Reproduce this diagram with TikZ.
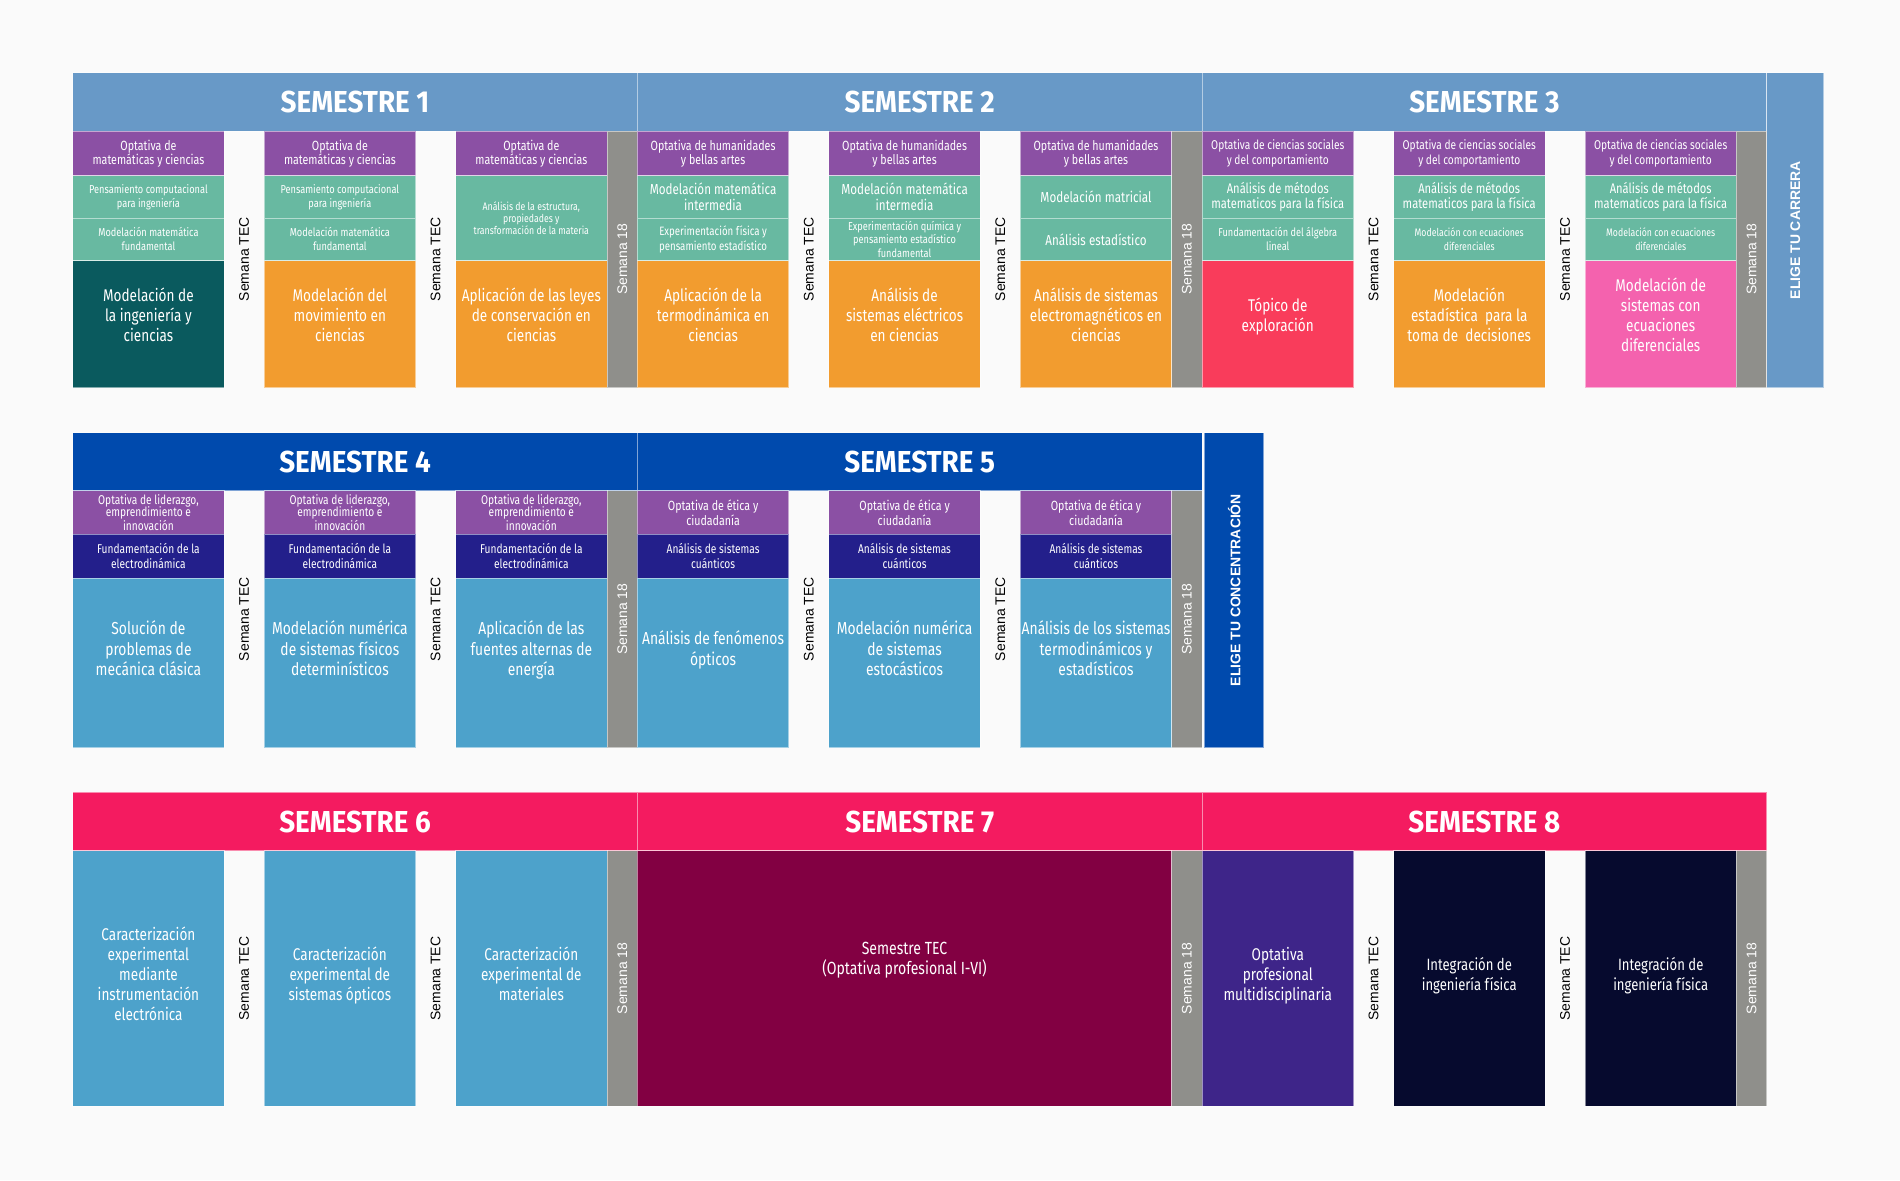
\documentclass[tikz,border=0pt]{standalone}
\usepackage{fontspec}
\setmainfont{Fira Sans}[FakeStretch=0.8]
\newfontfamily\titlefont{Fira Sans}[FakeStretch=0.92]
\newfontfamily\tecfont{Liberation Sans}
\usepackage{graphicx}
\usepackage{tikz}
\usetikzlibrary{positioning}

\definecolor{paper}{HTML}{FAFAFA}
\definecolor{headblue}{HTML}{6899C7}
\definecolor{headroyal}{HTML}{004AAD}
\definecolor{headrose}{HTML}{F41B60}
\definecolor{optpurple}{HTML}{8B50A4}
\definecolor{tealrow}{HTML}{68B9A1}
\definecolor{darkteal}{HTML}{0A5A5E}
\definecolor{orangebox}{HTML}{F29C2F}
\definecolor{greybar}{HTML}{8F8F8B}
\definecolor{redbox}{HTML}{F93C5B}
\definecolor{pinkbox}{HTML}{F462AE}
\definecolor{navyrow}{HTML}{231F8B}
\definecolor{skybox}{HTML}{4DA2CB}
\definecolor{maroonbox}{HTML}{820042}
\definecolor{violetbox}{HTML}{3E2589}
\definecolor{inkbox}{HTML}{060A2E}

\newcommand{\fs}[2]{\fontsize{#1}{#2}\selectfont}
% extra empty line to lift the text of the tall boxes
\newcommand{\liftone}{\\[-1.5pt]\mbox{}}
\newcommand{\lifttwo}{\\[7pt]\mbox{}}
\newcommand{\liftthree}{\\[-8.5pt]\mbox{}}

\begin{document}
\begin{tikzpicture}[
    x=1pt, y=-1pt,
    cell/.style={draw=white, draw opacity=0.5, line width=0.6pt, outer sep=0pt, inner sep=1pt, text=white, align=center, anchor=north west, minimum width=125pt},
    headone/.style={cell, fill=headblue, minimum width=466pt, minimum height=48pt, font=\titlefont\bfseries\fs{25}{25}},
    headtwo/.style={headone, fill=headroyal},
    headthree/.style={headone, fill=headrose},
    optone/.style={cell, fill=optpurple, minimum height=37pt, font=\fs{11}{11.5}},
    opttwo/.style={cell, fill=optpurple, minimum height=36pt, font=\fs{11}{12.5}},
    subone/.style={cell, fill=tealrow, minimum height=35pt, font=\fs{9.5}{11.5}},
    navybox/.style={cell, fill=navyrow, minimum height=36pt, font=\fs{10.5}{12}},
    mainone/.style={cell, minimum height=105pt, font=\fs{14}{16.5}},
    maintwo/.style={cell, fill=skybox, minimum height=140pt, font=\fs{14.3}{17}},
    mainthree/.style={cell, minimum height=211pt, font=\fs{14}{16.5}},
    tecgap/.style={anchor=north west, outer sep=0pt, inner sep=0pt, minimum width=33pt, font=\tecfont\fs{11.5}{12}},
    s18bar/.style={cell, fill=greybar, minimum width=25pt, font=\tecfont\fs{11.5}{12}},
    elige/.style={cell, minimum width=47pt, minimum height=260pt, font=\tecfont\bfseries\fs{11.5}{12}}
]
    \fill[paper] (0,0) rectangle (1568,974);

    % Semestre 1
    \node[headone] (s1) at (60,60) {SEMESTRE 1};
    \node[optone] (s1a1) at (s1.south west) {Optativa de\\matemáticas y ciencias};
    \node[subone, below=0pt of s1a1] (s1a2) {Pensamiento computacional\\para ingeniería};
    \node[subone, below=0pt of s1a2] (s1a3) {Modelación matemática\\fundamental};
    \node[mainone, fill=darkteal, below=0pt of s1a3] (s1a4) {Modelación de\\la ingeniería y\\ciencias\liftone};
    \node[tecgap, minimum height=212pt] (s1t1) at (s1a1.north east) {\rotatebox{90}{Semana TEC}};
    \node[optone] (s1b1) at (s1t1.north east) {Optativa de\\matemáticas y ciencias};
    \node[subone, below=0pt of s1b1] (s1b2) {Pensamiento computacional\\para ingeniería};
    \node[subone, below=0pt of s1b2] (s1b3) {Modelación matemática\\fundamental};
    \node[mainone, fill=orangebox, below=0pt of s1b3] (s1b4) {Modelación del\\movimiento en\\ciencias\liftone};
    \node[tecgap, minimum height=212pt] (s1t2) at (s1b1.north east) {\rotatebox{90}{Semana TEC}};
    \node[optone] (s1c1) at (s1t2.north east) {Optativa de\\matemáticas y ciencias};
    \node[subone, minimum height=70pt, font=\fs{9}{10}, below=0pt of s1c1] (s1c2) {Análisis de la estructura,\\propiedades y\\transformación de la materia};
    \node[mainone, fill=orangebox, below=0pt of s1c2] (s1c4) {Aplicación de las leyes\\de conservación en\\ciencias\liftone};
    \node[s18bar, minimum height=212pt] (s1e) at (s1c1.north east) {\rotatebox{90}{Semana 18}};

    % Semestre 2
    \node[headone] (s2) at (s1.north east) {SEMESTRE 2};
    \node[optone] (s2a1) at (s2.south west) {Optativa de humanidades\\y bellas artes};
    \node[subone, font=\fs{12}{13}, below=0pt of s2a1] (s2a2) {Modelación matemática\\intermedia};
    \node[subone, font=\fs{10}{12}, below=0pt of s2a2] (s2a3) {Experimentación física y\\pensamiento estadístico};
    \node[mainone, fill=orangebox, below=0pt of s2a3] (s2a4) {Aplicación de la\\termodinámica en\\ciencias\liftone};
    \node[tecgap, minimum height=212pt] (s2t1) at (s2a1.north east) {\rotatebox{90}{Semana TEC}};
    \node[optone] (s2b1) at (s2t1.north east) {Optativa de humanidades\\y bellas artes};
    \node[subone, font=\fs{12}{13}, below=0pt of s2b1] (s2b2) {Modelación matemática\\intermedia};
    \node[subone, font=\fs{9.5}{11}, below=0pt of s2b2] (s2b3) {Experimentación química y\\pensamiento estadístico\\fundamental};
    \node[mainone, fill=orangebox, below=0pt of s2b3] (s2b4) {Análisis de\\sistemas eléctricos\\en ciencias\liftone};
    \node[tecgap, minimum height=212pt] (s2t2) at (s2b1.north east) {\rotatebox{90}{Semana TEC}};
    \node[optone] (s2c1) at (s2t2.north east) {Optativa de humanidades\\y bellas artes};
    \node[subone, font=\fs{12}{13}, below=0pt of s2c1] (s2c2) {Modelación matricial};
    \node[subone, font=\fs{12}{13}, below=0pt of s2c2] (s2c3) {Análisis estadístico};
    \node[mainone, fill=orangebox, below=0pt of s2c3] (s2c4) {Análisis de sistemas\\electromagnéticos en\\ciencias\liftone};
    \node[s18bar, minimum height=212pt] (s2e) at (s2c1.north east) {\rotatebox{90}{Semana 18}};

    % Semestre 3
    \node[headone] (s3) at (s2.north east) {SEMESTRE 3};
    \node[optone, font=\fs{10.5}{12}] (s3a1) at (s3.south west) {Optativa de ciencias sociales\\y del comportamiento};
    \node[subone, font=\fs{11.5}{13}, below=0pt of s3a1] (s3a2) {Análisis de métodos\\matematicos para la física};
    \node[subone, below=0pt of s3a2] (s3a3) {Fundamentación del álgebra\\lineal};
    \node[mainone, fill=redbox, below=0pt of s3a3] (s3a4) {Tópico de\\exploración\liftone};
    \node[tecgap, minimum height=212pt] (s3t1) at (s3a1.north east) {\rotatebox{90}{Semana TEC}};
    \node[optone, font=\fs{10.5}{12}] (s3b1) at (s3t1.north east) {Optativa de ciencias sociales\\y del comportamiento};
    \node[subone, font=\fs{11.5}{13}, below=0pt of s3b1] (s3b2) {Análisis de métodos\\matematicos para la física};
    \node[subone, font=\fs{9}{11.5}, below=0pt of s3b2] (s3b3) {Modelación con ecuaciones\\diferenciales};
    \node[mainone, fill=orangebox, below=0pt of s3b3] (s3b4) {Modelación\\estadística\ \ para la\\toma de\ \ decisiones\liftone};
    \node[tecgap, minimum height=212pt] (s3t2) at (s3b1.north east) {\rotatebox{90}{Semana TEC}};
    \node[optone, font=\fs{10.5}{12}] (s3c1) at (s3t2.north east) {Optativa de ciencias sociales\\y del comportamiento};
    \node[subone, font=\fs{11.5}{13}, below=0pt of s3c1] (s3c2) {Análisis de métodos\\matematicos para la física};
    \node[subone, font=\fs{9}{11.5}, below=0pt of s3c2] (s3c3) {Modelación con ecuaciones\\diferenciales};
    \node[mainone, fill=pinkbox, below=0pt of s3c3] (s3c4) {Modelación de\\sistemas con\\ecuaciones\\diferenciales\liftone};
    \node[s18bar, minimum height=212pt] (s3e) at (s3c1.north east) {\rotatebox{90}{Semana 18}};
    \node[elige, fill=headblue] (carrera) at (s3.north east) {\rotatebox{90}{ELIGE TU CARRERA}};

    % Semestre 4
    \node[headtwo] (s4) at (60,357) {SEMESTRE 4};
    \node[opttwo, font=\fs{10.5}{10.5}] (s4a1) at (s4.south west) {Optativa de liderazgo,\\emprendimiento e\\innovación};
    \node[navybox, below=0pt of s4a1] (s4a2) {Fundamentación de la\\electrodinámica};
    \node[maintwo, below=0pt of s4a2] (s4a3) {Solución de\\problemas de\\mecánica clásica\lifttwo};
    \node[tecgap, minimum height=212pt] (s4t1) at (s4a1.north east) {\rotatebox{90}{Semana TEC}};
    \node[opttwo, font=\fs{10.5}{10.5}] (s4b1) at (s4t1.north east) {Optativa de liderazgo,\\emprendimiento e\\innovación};
    \node[navybox, below=0pt of s4b1] (s4b2) {Fundamentación de la\\electrodinámica};
    \node[maintwo, below=0pt of s4b2] (s4b3) {Modelación numérica\\de sistemas físicos\\determinísticos\lifttwo};
    \node[tecgap, minimum height=212pt] (s4t2) at (s4b1.north east) {\rotatebox{90}{Semana TEC}};
    \node[opttwo, font=\fs{10.5}{10.5}] (s4c1) at (s4t2.north east) {Optativa de liderazgo,\\emprendimiento e\\innovación};
    \node[navybox, below=0pt of s4c1] (s4c2) {Fundamentación de la\\electrodinámica};
    \node[maintwo, below=0pt of s4c2] (s4c3) {Aplicación de las\\fuentes alternas de\\energía\lifttwo};
    \node[s18bar, minimum height=212pt] (s4e) at (s4c1.north east) {\rotatebox{90}{Semana 18}};

    % Semestre 5
    \node[headtwo] (s5) at (s4.north east) {SEMESTRE 5};
    \node[opttwo] (s5a1) at (s5.south west) {Optativa de ética y\\ciudadanía};
    \node[navybox, below=0pt of s5a1] (s5a2) {Análisis de sistemas\\cuánticos};
    \node[maintwo, below=0pt of s5a2] (s5a3) {Análisis de fenómenos\\ópticos\lifttwo};
    \node[tecgap, minimum height=212pt] (s5t1) at (s5a1.north east) {\rotatebox{90}{Semana TEC}};
    \node[opttwo] (s5b1) at (s5t1.north east) {Optativa de ética y\\ciudadanía};
    \node[navybox, below=0pt of s5b1] (s5b2) {Análisis de sistemas\\cuánticos};
    \node[maintwo, below=0pt of s5b2] (s5b3) {Modelación numérica\\de sistemas\\estocásticos\lifttwo};
    \node[tecgap, minimum height=212pt] (s5t2) at (s5b1.north east) {\rotatebox{90}{Semana TEC}};
    \node[opttwo] (s5c1) at (s5t2.north east) {Optativa de ética y\\ciudadanía};
    \node[navybox, below=0pt of s5c1] (s5c2) {Análisis de sistemas\\cuánticos};
    \node[maintwo, below=0pt of s5c2] (s5c3) {Análisis de los sistemas\\termodinámicos y\\estadísticos\lifttwo};
    \node[s18bar, minimum height=212pt] (s5e) at (s5c1.north east) {\rotatebox{90}{Semana 18}};
    \node[elige, fill=headroyal, xshift=2pt, minimum width=49pt] (concentracion) at (s5.north east) {\rotatebox{90}{ELIGE TU CONCENTRACIÓN}};

    % Semestre 6
    \node[headthree] (s6) at (60,654) {SEMESTRE 6};
    \node[mainthree, fill=skybox] (s6a1) at (s6.south west) {Caracterización\\experimental\\mediante\\instrumentación\\electrónica\liftthree};
    \node[tecgap, minimum height=211pt] (s6t1) at (s6a1.north east) {\rotatebox{90}{Semana TEC}};
    \node[mainthree, fill=skybox] (s6b1) at (s6t1.north east) {Caracterización\\experimental de\\sistemas ópticos\liftthree};
    \node[tecgap, minimum height=211pt] (s6t2) at (s6b1.north east) {\rotatebox{90}{Semana TEC}};
    \node[mainthree, fill=skybox] (s6c1) at (s6t2.north east) {Caracterización\\experimental de\\materiales\liftthree};
    \node[s18bar, minimum height=211pt] (s6e) at (s6c1.north east) {\rotatebox{90}{Semana 18}};

    % Semestre 7
    \node[headthree] (s7) at (s6.north east) {SEMESTRE 7};
    \node[mainthree, fill=maroonbox, minimum width=441pt, font=\fs{14.5}{17}] (s7a1) at (s7.south west) {Semestre TEC\\(Optativa profesional I-VI)\\[16pt]\mbox{}};
    \node[s18bar, minimum height=211pt] (s7e) at (s7a1.north east) {\rotatebox{90}{Semana 18}};

    % Semestre 8
    \node[headthree] (s8) at (s7.north east) {SEMESTRE 8};
    \node[mainthree, fill=violetbox] (s8a1) at (s8.south west) {Optativa\\profesional\\multidisciplinaria\liftthree};
    \node[tecgap, minimum height=211pt] (s8t1) at (s8a1.north east) {\rotatebox{90}{Semana TEC}};
    \node[mainthree, fill=inkbox, font=\fs{13.5}{16.5}] (s8b1) at (s8t1.north east) {Integración de\\ingeniería física\liftthree};
    \node[tecgap, minimum height=211pt] (s8t2) at (s8b1.north east) {\rotatebox{90}{Semana TEC}};
    \node[mainthree, fill=inkbox, font=\fs{13.5}{16.5}] (s8c1) at (s8t2.north east) {Integración de\\ingeniería física\liftthree};
    \node[s18bar, minimum height=211pt] (s8e) at (s8c1.north east) {\rotatebox{90}{Semana 18}};
\end{tikzpicture}
\end{document}
